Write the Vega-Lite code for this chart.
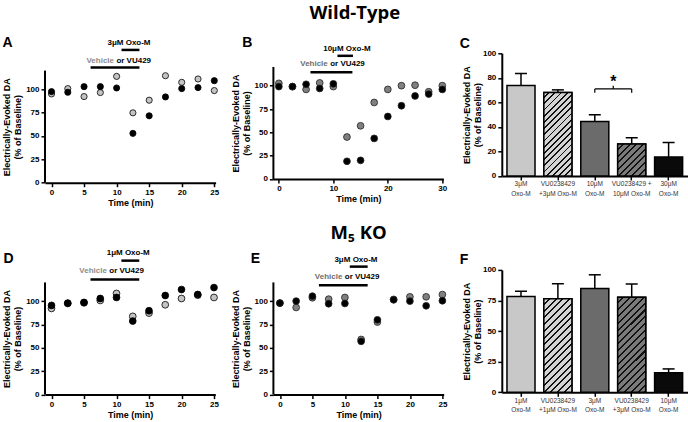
{
 "$schema": "https://vega.github.io/schema/vega-lite/v6.json",
 "background": "white",
 "padding": {"left": 2, "top": 3.3, "right": 0, "bottom": 0},
 "columns": 3,
 "spacing": {"row": 86.6, "column": 57.4},
 "bounds": "flush",
 "align": "each",
 "resolve": {"scale": {"fill": "independent"}},
 "datasets": {
  "A": [
   {"t":0,"v":95,"g":"Vehicle"},{"t":2.5,"v":100.7,"g":"Vehicle"},{"t":5,"v":92.2,"g":"Vehicle"},{"t":7.5,"v":96.5,"g":"Vehicle"},{"t":10,"v":113.8,"g":"Vehicle"},{"t":12.5,"v":74.8,"g":"Vehicle"},{"t":15,"v":88.3,"g":"Vehicle"},{"t":17.5,"v":114.5,"g":"Vehicle"},{"t":20,"v":107.4,"g":"Vehicle"},{"t":22.5,"v":111,"g":"Vehicle"},{"t":25,"v":98.6,"g":"Vehicle"},
   {"t":0,"v":97.5,"g":"VU429"},{"t":2.5,"v":96.8,"g":"VU429"},{"t":5,"v":102.8,"g":"VU429"},{"t":7.5,"v":102.8,"g":"VU429"},{"t":10,"v":101.4,"g":"VU429"},{"t":12.5,"v":52.8,"g":"VU429"},{"t":15,"v":71.6,"g":"VU429"},{"t":17.5,"v":91.8,"g":"VU429"},{"t":20,"v":100.7,"g":"VU429"},{"t":22.5,"v":101.8,"g":"VU429"},{"t":25,"v":109.2,"g":"VU429"}
  ],
  "B": [
   {"t":0,"v":102.5,"g":"Vehicle"},{"t":2.5,"v":99,"g":"Vehicle"},{"t":5,"v":96,"g":"Vehicle"},{"t":7.5,"v":103,"g":"Vehicle"},{"t":10,"v":99,"g":"Vehicle"},{"t":12.5,"v":45,"g":"Vehicle"},{"t":15,"v":57,"g":"Vehicle"},{"t":17.5,"v":82,"g":"Vehicle"},{"t":20,"v":96,"g":"Vehicle"},{"t":22.5,"v":100,"g":"Vehicle"},{"t":25,"v":100.5,"g":"Vehicle"},{"t":27.5,"v":93.5,"g":"Vehicle"},{"t":30,"v":100,"g":"Vehicle"},
   {"t":0,"v":99,"g":"VU429"},{"t":2.5,"v":99,"g":"VU429"},{"t":5,"v":101.5,"g":"VU429"},{"t":7.5,"v":97,"g":"VU429"},{"t":10,"v":102,"g":"VU429"},{"t":12.5,"v":19,"g":"VU429"},{"t":15,"v":20,"g":"VU429"},{"t":17.5,"v":43.5,"g":"VU429"},{"t":20,"v":67,"g":"VU429"},{"t":22.5,"v":78.5,"g":"VU429"},{"t":25,"v":89,"g":"VU429"},{"t":27.5,"v":91,"g":"VU429"},{"t":30,"v":96,"g":"VU429"}
  ],
  "D": [
   {"t":0,"v":92.2,"g":"Vehicle"},{"t":2.5,"v":97.5,"g":"Vehicle"},{"t":5,"v":98.2,"g":"Vehicle"},{"t":7.5,"v":100.7,"g":"Vehicle"},{"t":10,"v":108.2,"g":"Vehicle"},{"t":12.5,"v":83.7,"g":"Vehicle"},{"t":15,"v":87.2,"g":"Vehicle"},{"t":17.5,"v":96.1,"g":"Vehicle"},{"t":20,"v":102.8,"g":"Vehicle"},{"t":22.5,"v":106.4,"g":"Vehicle"},{"t":25,"v":103.9,"g":"Vehicle"},
   {"t":0,"v":95.4,"g":"VU429"},{"t":2.5,"v":97.9,"g":"VU429"},{"t":5,"v":98.6,"g":"VU429"},{"t":7.5,"v":102.8,"g":"VU429"},{"t":10,"v":103.9,"g":"VU429"},{"t":12.5,"v":78.7,"g":"VU429"},{"t":15,"v":89.7,"g":"VU429"},{"t":17.5,"v":106,"g":"VU429"},{"t":20,"v":112.4,"g":"VU429"},{"t":22.5,"v":107.1,"g":"VU429"},{"t":25,"v":114.5,"g":"VU429"}
  ],
  "E": [
   {"t":0,"v":97.9,"g":"Vehicle"},{"t":2.5,"v":93.2,"g":"Vehicle"},{"t":5,"v":103.6,"g":"Vehicle"},{"t":7.5,"v":102.1,"g":"Vehicle"},{"t":10,"v":103.9,"g":"Vehicle"},{"t":12.5,"v":59,"g":"Vehicle"},{"t":15,"v":77.6,"g":"Vehicle"},{"t":17.5,"v":101.8,"g":"Vehicle"},{"t":20,"v":104.6,"g":"Vehicle"},{"t":22.5,"v":104.6,"g":"Vehicle"},{"t":25,"v":107,"g":"Vehicle"},
   {"t":0,"v":97.9,"g":"VU429"},{"t":2.5,"v":100,"g":"VU429"},{"t":5,"v":105.3,"g":"VU429"},{"t":7.5,"v":97.2,"g":"VU429"},{"t":10,"v":97.5,"g":"VU429"},{"t":12.5,"v":57,"g":"VU429"},{"t":15,"v":80,"g":"VU429"},{"t":17.5,"v":101.4,"g":"VU429"},{"t":20,"v":100,"g":"VU429"},{"t":22.5,"v":95,"g":"VU429"},{"t":25,"v":100.4,"g":"VU429"}
  ],
  "annA": [{"kind":"oxo","start":10.75,"end":13.5,"at":11.9,"label":"3μM Oxo-M"},{"kind":"veh","start":6,"end":13.5,"at":9.78}],
  "annB": [{"kind":"oxo","start":10.75,"end":13.6,"at":12.5,"label":"10μM Oxo-M"},{"kind":"veh","start":5.8,"end":13.5,"at":9.2}],
  "annD": [{"kind":"oxo","start":10.75,"end":13.5,"at":11.8,"label":"1μM Oxo-M"},{"kind":"veh","start":6,"end":13.5,"at":8.7}],
  "annE": [{"kind":"oxo","start":10.75,"end":13.5,"at":11.7,"label":"3μM Oxo-M"},{"kind":"veh","start":6,"end":13.5,"at":9.8}],
  "C": [
   {"idx":"c1","cond":"3μM\nOxo-M","mean":73.7,"hi":83.6},
   {"idx":"c2","cond":"VU0238429\n+3μM Oxo-M","mean":68.1,"hi":70.2},
   {"idx":"c3","cond":"10μM\nOxo-M","mean":44.5,"hi":49.9,"pair":"VU0238429 +\n10μM Oxo-M"},
   {"idx":"c4","cond":"VU0238429 +\n10μM Oxo-M","mean":26,"hi":31.1},
   {"idx":"c5","cond":"30μM\nOxo-M","mean":15.5,"hi":27.3}
  ],
  "F": [
   {"idx":"c1","cond":"1μM\nOxo-M","mean":78.2,"hi":82.5},
   {"idx":"c2","cond":"VU0238429\n+1μM Oxo-M","mean":76.5,"hi":88.7},
   {"idx":"c3","cond":"3μM\nOxo-M","mean":84.9,"hi":96},
   {"idx":"c4","cond":"VU0238429\n+3μM Oxo-M","mean":77.6,"hi":88.4},
   {"idx":"c5","cond":"10μM\nOxo-M","mean":15.9,"hi":19.1}
  ]
 },
 "concat": [
  {
   "width": 170.6, "height": 129.4,
   "resolve": {"axis": {"x": "independent", "y": "independent"}},
   "layer": [
    {"data":{"name":"A"},"mark":{"type":"point","filled":true,"opacity":1,"size":38,"stroke":"black","strokeWidth":0.8},
     "encoding":{
      "x":{"field":"t","type":"quantitative","scale":{"domain":[-1,25.2],"nice":false,"zero":false},"axis":{"values":[0,5,10,15,20,25],"labelOverlap":false,"title":"Time (min)"}},
      "y":{"field":"v","type":"quantitative","scale":{"domain":[0,138.5],"nice":false},"axis":{"values":[0,25,50,75,100],"labelOverlap":false,"domain":false,"title":["Electrically-Evoked DA","(% of Baseline)"],"titleY":73.4}},
      "fill":{"field":"g","type":"nominal","scale":{"domain":["Vehicle","VU429"],"range":["#c4c4c4","#000000"]},"legend":null}}},
    {"data":{"values":[{}]},"mark":{"type":"rule","stroke":"black","strokeWidth":2},"encoding":{"x":{"datum":-1,"type":"quantitative","axis":null},"y":{"datum":0,"type":"quantitative","axis":null},"y2":{"datum":120}}},
    {"data":{"name":"annA"},"transform":[{"filter":"datum.kind==='oxo'"}],"mark":{"type":"rule","stroke":"black","strokeWidth":2.5},"encoding":{"x":{"field":"start","type":"quantitative","axis":null},"x2":{"field":"end"},"y":{"datum":142.1,"axis":null}}},
    {"data":{"name":"annA"},"transform":[{"filter":"datum.kind==='veh'"}],"mark":{"type":"rule","stroke":"black","strokeWidth":2.5},"encoding":{"x":{"field":"start","type":"quantitative","axis":null},"x2":{"field":"end"},"y":{"datum":123.3,"axis":null}}},
    {"data":{"name":"annA"},"transform":[{"filter":"datum.kind==='oxo'"}],"mark":{"type":"text","font":"Liberation Sans","fontSize":8,"fontWeight":"bold","baseline":"middle","align":"center","color":"black"},"encoding":{"x":{"field":"at","type":"quantitative","axis":null},"y":{"datum":149.6,"axis":null},"text":{"field":"label"}}},
    {"data":{"name":"annA"},"transform":[{"filter":"datum.kind==='veh'"}],"mark":{"type":"text","font":"Liberation Sans","fontSize":8,"fontWeight":"bold","baseline":"middle","align":"right","dx":-1.2,"color":"#8c8c8c"},"encoding":{"x":{"field":"at","type":"quantitative","axis":null},"y":{"datum":130.4,"axis":null},"text":{"value":"Vehicle"}}},
    {"data":{"name":"annA"},"transform":[{"filter":"datum.kind==='veh'"}],"mark":{"type":"text","font":"Liberation Sans","fontSize":8,"fontWeight":"bold","baseline":"middle","align":"left","dx":1.2,"color":"black"},"encoding":{"x":{"field":"at","type":"quantitative","axis":null},"y":{"datum":130.4,"axis":null},"text":{"value":"or VU429"}}},
    {"data":{"values":[{}]},"mark":{"type":"text","font":"Liberation Sans","fontSize":14,"fontWeight":"bold","baseline":"middle","align":"center","color":"black"},"encoding":{"x":{"datum":-6.76,"type":"quantitative","axis":null},"y":{"datum":149.6,"type":"quantitative","axis":null},"text":{"value":"A"}}}
   ]
  },
  {
   "width": 170.0, "height": 125.7,
   "resolve": {"axis": {"x": "independent", "y": "independent"}},
   "title": {"text":"Wild-Type","anchor":"middle","frame":"group","dx":-3.6,"offset":-1.7,"fontSize":18.5,"font":"Open Sans","fontWeight":"bold","baseline":"alphabetic","color":"black"},
   "layer": [
    {"data":{"name":"B"},"mark":{"type":"point","filled":true,"opacity":1,"size":46,"stroke":"#222222","strokeWidth":0.8},
     "encoding":{
      "x":{"field":"t","type":"quantitative","scale":{"domain":[-1,30.2],"nice":false,"zero":false},"axis":{"values":[0,10,20,30],"labelOverlap":false,"title":"Time (min)"}},
      "y":{"field":"v","type":"quantitative","scale":{"domain":[0,134.7],"nice":false},"axis":{"values":[0,25,50,75,100],"labelOverlap":false,"domain":false,"title":["Electrically-Evoked DA","(% of Baseline)"],"titleY":69.7}},
      "fill":{"field":"g","type":"nominal","scale":{"domain":["Vehicle","VU429"],"range":["#808080","#000000"]},"legend":null}}},
    {"data":{"values":[{}]},"mark":{"type":"rule","stroke":"black","strokeWidth":2},"encoding":{"x":{"datum":-1,"type":"quantitative","axis":null},"y":{"datum":0,"type":"quantitative","axis":null},"y2":{"datum":120}}},
    {"data":{"name":"annB"},"transform":[{"filter":"datum.kind==='oxo'"}],"mark":{"type":"rule","stroke":"black","strokeWidth":2.5},"encoding":{"x":{"field":"start","type":"quantitative","axis":null},"x2":{"field":"end"},"y":{"datum":132,"axis":null}}},
    {"data":{"name":"annB"},"transform":[{"filter":"datum.kind==='veh'"}],"mark":{"type":"rule","stroke":"black","strokeWidth":2.5},"encoding":{"x":{"field":"start","type":"quantitative","axis":null},"x2":{"field":"end"},"y":{"datum":114.5,"axis":null}}},
    {"data":{"name":"annB"},"transform":[{"filter":"datum.kind==='oxo'"}],"mark":{"type":"text","font":"Liberation Sans","fontSize":8,"fontWeight":"bold","baseline":"middle","align":"center","color":"black"},"encoding":{"x":{"field":"at","type":"quantitative","axis":null},"y":{"datum":139,"axis":null},"text":{"field":"label"}}},
    {"data":{"name":"annB"},"transform":[{"filter":"datum.kind==='veh'"}],"mark":{"type":"text","font":"Liberation Sans","fontSize":8,"fontWeight":"bold","baseline":"middle","align":"right","dx":-1.2,"color":"#6e6e6e"},"encoding":{"x":{"field":"at","type":"quantitative","axis":null},"y":{"datum":123.5,"axis":null},"text":{"value":"Vehicle"}}},
    {"data":{"name":"annB"},"transform":[{"filter":"datum.kind==='veh'"}],"mark":{"type":"text","font":"Liberation Sans","fontSize":8,"fontWeight":"bold","baseline":"middle","align":"left","dx":1.2,"color":"black"},"encoding":{"x":{"field":"at","type":"quantitative","axis":null},"y":{"datum":123.5,"axis":null},"text":{"value":"or VU429"}}},
    {"data":{"values":[{}]},"mark":{"type":"text","font":"Liberation Sans","fontSize":14,"fontWeight":"bold","baseline":"middle","align":"center","color":"black"},"encoding":{"x":{"datum":-5.77,"type":"quantitative","axis":null},"y":{"datum":145.8,"type":"quantitative","axis":null},"text":{"value":"B"}}}
   ]
  },
  {
   "width": 186, "height": 122.7,
   "title": {"text":"C","anchor":"start","frame":"group","dx":-42,"offset":-12.8,"fontSize":14,"font":"Liberation Sans","fontWeight":"bold","baseline":"alphabetic","color":"black"},
   "data": {"name":"C"},
   "encoding": {
    "x": {"field":"cond","type":"nominal","sort":null,"scale":{"domain":["3μM\nOxo-M","VU0238429\n+3μM Oxo-M","10μM\nOxo-M","VU0238429 +\n10μM Oxo-M","30μM\nOxo-M"],"paddingInner":0.24,"paddingOuter":0.14},"axis":{"title":null,"labelAngle":0,"labelExpr":"split(datum.value, '\\n')","labelFontWeight":"normal","labelFontSize":6.5,"labelColor":"#333333","labelLineHeight":9.5,"labelPadding":1,"tickSize":4}},
    "y": {"field":"mean","type":"quantitative","scale":{"domain":[0,100],"nice":false},"axis":{"values":[0,20,40,60,80,100],"labelOverlap":false,"title":["Electrically-Evoked DA","(% of Baseline)"],"titlePadding":0}}
   },
   "layer": [
    {"mark":{"type":"bar","stroke":"black","strokeWidth":1.5},"encoding":{"fill":{"field":"idx","type":"nominal","scale":{"domain":["c1","c2","c3","c4","c5"],"range":["#c8c8c8","#d4d4d4","#6b6b6b","#7a7a7a","#0a0a0a"]},"legend":null}}},
    {"transform":[{"filter":"datum.idx==='c2'"}],"mark":{"type":"bar","stroke":"black","strokeWidth":1.5,"fill":{"gradient":"linear","x1":0,"y1":0,"x2":0.402,"y2":1.2,"stops":[
     {"offset":0,"color":"#d4d4d4"},
     {"offset":0.0389,"color":"#d4d4d4"},{"offset":0.0389,"color":"#111111"},{"offset":0.0556,"color":"#111111"},{"offset":0.0556,"color":"#d4d4d4"},
     {"offset":0.0944,"color":"#d4d4d4"},{"offset":0.0944,"color":"#111111"},{"offset":0.1111,"color":"#111111"},{"offset":0.1111,"color":"#d4d4d4"},
     {"offset":0.15,"color":"#d4d4d4"},{"offset":0.15,"color":"#111111"},{"offset":0.1667,"color":"#111111"},{"offset":0.1667,"color":"#d4d4d4"},
     {"offset":0.2056,"color":"#d4d4d4"},{"offset":0.2056,"color":"#111111"},{"offset":0.2222,"color":"#111111"},{"offset":0.2222,"color":"#d4d4d4"},
     {"offset":0.2611,"color":"#d4d4d4"},{"offset":0.2611,"color":"#111111"},{"offset":0.2778,"color":"#111111"},{"offset":0.2778,"color":"#d4d4d4"},
     {"offset":0.3167,"color":"#d4d4d4"},{"offset":0.3167,"color":"#111111"},{"offset":0.3333,"color":"#111111"},{"offset":0.3333,"color":"#d4d4d4"},
     {"offset":0.3722,"color":"#d4d4d4"},{"offset":0.3722,"color":"#111111"},{"offset":0.3889,"color":"#111111"},{"offset":0.3889,"color":"#d4d4d4"},
     {"offset":0.4278,"color":"#d4d4d4"},{"offset":0.4278,"color":"#111111"},{"offset":0.4444,"color":"#111111"},{"offset":0.4444,"color":"#d4d4d4"},
     {"offset":0.4833,"color":"#d4d4d4"},{"offset":0.4833,"color":"#111111"},{"offset":0.5,"color":"#111111"},{"offset":0.5,"color":"#d4d4d4"},
     {"offset":0.5389,"color":"#d4d4d4"},{"offset":0.5389,"color":"#111111"},{"offset":0.5556,"color":"#111111"},{"offset":0.5556,"color":"#d4d4d4"},
     {"offset":0.5944,"color":"#d4d4d4"},{"offset":0.5944,"color":"#111111"},{"offset":0.6111,"color":"#111111"},{"offset":0.6111,"color":"#d4d4d4"},
     {"offset":0.65,"color":"#d4d4d4"},{"offset":0.65,"color":"#111111"},{"offset":0.6667,"color":"#111111"},{"offset":0.6667,"color":"#d4d4d4"},
     {"offset":0.7056,"color":"#d4d4d4"},{"offset":0.7056,"color":"#111111"},{"offset":0.7222,"color":"#111111"},{"offset":0.7222,"color":"#d4d4d4"},
     {"offset":0.7611,"color":"#d4d4d4"},{"offset":0.7611,"color":"#111111"},{"offset":0.7778,"color":"#111111"},{"offset":0.7778,"color":"#d4d4d4"},
     {"offset":0.8167,"color":"#d4d4d4"},{"offset":0.8167,"color":"#111111"},{"offset":0.8333,"color":"#111111"},{"offset":0.8333,"color":"#d4d4d4"},
     {"offset":0.8722,"color":"#d4d4d4"},{"offset":0.8722,"color":"#111111"},{"offset":0.8889,"color":"#111111"},{"offset":0.8889,"color":"#d4d4d4"},
     {"offset":0.9278,"color":"#d4d4d4"},{"offset":0.9278,"color":"#111111"},{"offset":0.9444,"color":"#111111"},{"offset":0.9444,"color":"#d4d4d4"},
     {"offset":0.9833,"color":"#d4d4d4"},{"offset":0.9833,"color":"#111111"},{"offset":1,"color":"#111111"}
    ]}}},
    {"transform":[{"filter":"datum.idx==='c4'"}],"mark":{"type":"bar","stroke":"black","strokeWidth":1.5,"fill":{"gradient":"linear","x1":0,"y1":0,"x2":0.931,"y2":1.06,"stops":[
     {"offset":0,"color":"#7a7a7a"},
     {"offset":0.0778,"color":"#7a7a7a"},{"offset":0.0778,"color":"#111111"},{"offset":0.1111,"color":"#111111"},{"offset":0.1111,"color":"#7a7a7a"},
     {"offset":0.1889,"color":"#7a7a7a"},{"offset":0.1889,"color":"#111111"},{"offset":0.2222,"color":"#111111"},{"offset":0.2222,"color":"#7a7a7a"},
     {"offset":0.3,"color":"#7a7a7a"},{"offset":0.3,"color":"#111111"},{"offset":0.3333,"color":"#111111"},{"offset":0.3333,"color":"#7a7a7a"},
     {"offset":0.4111,"color":"#7a7a7a"},{"offset":0.4111,"color":"#111111"},{"offset":0.4444,"color":"#111111"},{"offset":0.4444,"color":"#7a7a7a"},
     {"offset":0.5222,"color":"#7a7a7a"},{"offset":0.5222,"color":"#111111"},{"offset":0.5556,"color":"#111111"},{"offset":0.5556,"color":"#7a7a7a"},
     {"offset":0.6333,"color":"#7a7a7a"},{"offset":0.6333,"color":"#111111"},{"offset":0.6667,"color":"#111111"},{"offset":0.6667,"color":"#7a7a7a"},
     {"offset":0.7444,"color":"#7a7a7a"},{"offset":0.7444,"color":"#111111"},{"offset":0.7778,"color":"#111111"},{"offset":0.7778,"color":"#7a7a7a"},
     {"offset":0.8556,"color":"#7a7a7a"},{"offset":0.8556,"color":"#111111"},{"offset":0.8889,"color":"#111111"},{"offset":0.8889,"color":"#7a7a7a"},
     {"offset":0.9667,"color":"#7a7a7a"},{"offset":0.9667,"color":"#111111"},{"offset":1,"color":"#111111"}
    ]}}},
    {"mark":{"type":"rule","stroke":"black","strokeWidth":1.5},"encoding":{"y2":{"field":"hi"}}},
    {"mark":{"type":"tick","color":"black","opacity":1,"size":12,"thickness":1.5},"encoding":{"y":{"field":"hi","type":"quantitative"}}},
    {"transform":[{"filter":"datum.idx==='c3' || datum.idx==='c4'"}],"mark":{"type":"rule","stroke":"black","strokeWidth":1.2},"encoding":{"y":{"datum":67.8},"y2":{"datum":71}}},
    {"transform":[{"filter":"datum.idx==='c3'"}],"mark":{"type":"rule","stroke":"black","strokeWidth":1.2},"encoding":{"x2":{"field":"pair"},"y":{"datum":71}}},
    {"transform":[{"filter":"datum.idx==='c3'"}],"mark":{"type":"rule","stroke":"black","strokeWidth":1.2},"encoding":{"x":{"field":"cond","type":"nominal","bandPosition":1.158},"y":{"datum":71},"y2":{"datum":73.5}}},
    {"transform":[{"filter":"datum.idx==='c3'"}],"mark":{"type":"text","font":"Liberation Sans","fontSize":16,"fontWeight":"bold","baseline":"middle","align":"center","color":"black"},"encoding":{"x":{"field":"cond","type":"nominal","bandPosition":1.158},"y":{"datum":77},"text":{"value":"*"}}}
   ]
  },
  {
   "width": 170.3, "height": 124.7,
   "resolve": {"axis": {"x": "independent", "y": "independent"}},
   "layer": [
    {"data":{"name":"D"},"mark":{"type":"point","filled":true,"opacity":1,"size":46,"stroke":"black","strokeWidth":0.8},
     "encoding":{
      "x":{"field":"t","type":"quantitative","scale":{"domain":[-1,25.2],"nice":false,"zero":false},"axis":{"values":[0,5,10,15,20,25],"labelOverlap":false,"title":"Time (min)"}},
      "y":{"field":"v","type":"quantitative","scale":{"domain":[0,133.4],"nice":false},"axis":{"values":[0,25,50,75,100],"labelOverlap":false,"domain":false,"title":["Electrically-Evoked DA","(% of Baseline)"],"titleY":68.6}},
      "fill":{"field":"g","type":"nominal","scale":{"domain":["Vehicle","VU429"],"range":["#c4c4c4","#000000"]},"legend":null}}},
    {"data":{"values":[{}]},"mark":{"type":"rule","stroke":"black","strokeWidth":2},"encoding":{"x":{"datum":-1,"type":"quantitative","axis":null},"y":{"datum":0,"type":"quantitative","axis":null},"y2":{"datum":120}}},
    {"data":{"name":"annD"},"transform":[{"filter":"datum.kind==='oxo'"}],"mark":{"type":"rule","stroke":"black","strokeWidth":2.5},"encoding":{"x":{"field":"start","type":"quantitative","axis":null},"x2":{"field":"end"},"y":{"datum":143.3,"axis":null}}},
    {"data":{"name":"annD"},"transform":[{"filter":"datum.kind==='veh'"}],"mark":{"type":"rule","stroke":"black","strokeWidth":2.5},"encoding":{"x":{"field":"start","type":"quantitative","axis":null},"x2":{"field":"end"},"y":{"datum":123,"axis":null}}},
    {"data":{"name":"annD"},"transform":[{"filter":"datum.kind==='oxo'"}],"mark":{"type":"text","font":"Liberation Sans","fontSize":8,"fontWeight":"bold","baseline":"middle","align":"center","color":"black"},"encoding":{"x":{"field":"at","type":"quantitative","axis":null},"y":{"datum":151.1,"axis":null},"text":{"field":"label"}}},
    {"data":{"name":"annD"},"transform":[{"filter":"datum.kind==='veh'"}],"mark":{"type":"text","font":"Liberation Sans","fontSize":8,"fontWeight":"bold","baseline":"middle","align":"right","dx":-1.2,"color":"#8c8c8c"},"encoding":{"x":{"field":"at","type":"quantitative","axis":null},"y":{"datum":131.9,"axis":null},"text":{"value":"Vehicle"}}},
    {"data":{"name":"annD"},"transform":[{"filter":"datum.kind==='veh'"}],"mark":{"type":"text","font":"Liberation Sans","fontSize":8,"fontWeight":"bold","baseline":"middle","align":"left","dx":1.2,"color":"black"},"encoding":{"x":{"field":"at","type":"quantitative","axis":null},"y":{"datum":131.9,"axis":null},"text":{"value":"or VU429"}}},
    {"data":{"values":[{}]},"mark":{"type":"text","font":"Liberation Sans","fontSize":14,"fontWeight":"bold","baseline":"middle","align":"center","color":"black"},"encoding":{"x":{"datum":-6.62,"type":"quantitative","axis":null},"y":{"datum":145.5,"type":"quantitative","axis":null},"text":{"value":"D"}}}
   ]
  },
  {
   "width": 170.3, "height": 124.7,
   "resolve": {"axis": {"x": "independent", "y": "independent"}},
   "title": {"text":"M₅ KO","anchor":"middle","frame":"group","dx":0,"offset":-6,"fontSize":18.5,"font":"Open Sans","fontWeight":"bold","baseline":"alphabetic","color":"black"},
   "layer": [
    {"data":{"name":"E"},"mark":{"type":"point","filled":true,"opacity":1,"size":46,"stroke":"#222222","strokeWidth":0.8},
     "encoding":{
      "x":{"field":"t","type":"quantitative","scale":{"domain":[-1,25.2],"nice":false,"zero":false},"axis":{"values":[0,5,10,15,20,25],"labelOverlap":false,"title":"Time (min)"}},
      "y":{"field":"v","type":"quantitative","scale":{"domain":[0,133.4],"nice":false},"axis":{"values":[0,25,50,75,100],"labelOverlap":false,"domain":false,"title":["Electrically-Evoked DA","(% of Baseline)"],"titleY":68.6}},
      "fill":{"field":"g","type":"nominal","scale":{"domain":["Vehicle","VU429"],"range":["#808080","#000000"]},"legend":null}}},
    {"data":{"values":[{}]},"mark":{"type":"rule","stroke":"black","strokeWidth":2},"encoding":{"x":{"datum":-1,"type":"quantitative","axis":null},"y":{"datum":0,"type":"quantitative","axis":null},"y2":{"datum":120}}},
    {"data":{"name":"annE"},"transform":[{"filter":"datum.kind==='oxo'"}],"mark":{"type":"rule","stroke":"black","strokeWidth":2.5},"encoding":{"x":{"field":"start","type":"quantitative","axis":null},"x2":{"field":"end"},"y":{"datum":136.9,"axis":null}}},
    {"data":{"name":"annE"},"transform":[{"filter":"datum.kind==='veh'"}],"mark":{"type":"rule","stroke":"black","strokeWidth":2.5},"encoding":{"x":{"field":"start","type":"quantitative","axis":null},"x2":{"field":"end"},"y":{"datum":117.1,"axis":null}}},
    {"data":{"name":"annE"},"transform":[{"filter":"datum.kind==='oxo'"}],"mark":{"type":"text","font":"Liberation Sans","fontSize":8,"fontWeight":"bold","baseline":"middle","align":"center","color":"black"},"encoding":{"x":{"field":"at","type":"quantitative","axis":null},"y":{"datum":144.4,"axis":null},"text":{"field":"label"}}},
    {"data":{"name":"annE"},"transform":[{"filter":"datum.kind==='veh'"}],"mark":{"type":"text","font":"Liberation Sans","fontSize":8,"fontWeight":"bold","baseline":"middle","align":"right","dx":-1.2,"color":"#6e6e6e"},"encoding":{"x":{"field":"at","type":"quantitative","axis":null},"y":{"datum":126.2,"axis":null},"text":{"value":"Vehicle"}}},
    {"data":{"name":"annE"},"transform":[{"filter":"datum.kind==='veh'"}],"mark":{"type":"text","font":"Liberation Sans","fontSize":8,"fontWeight":"bold","baseline":"middle","align":"left","dx":1.2,"color":"black"},"encoding":{"x":{"field":"at","type":"quantitative","axis":null},"y":{"datum":126.2,"axis":null},"text":{"value":"or VU429"}}},
    {"data":{"values":[{}]},"mark":{"type":"text","font":"Liberation Sans","fontSize":14,"fontWeight":"bold","baseline":"middle","align":"center","color":"black"},"encoding":{"x":{"datum":-3.77,"type":"quantitative","axis":null},"y":{"datum":145.5,"type":"quantitative","axis":null},"text":{"value":"E"}}}
   ]
  },
  {
   "width": 186, "height": 122.4,
   "title": {"text":"F","anchor":"start","frame":"group","dx":-42,"offset":-12.4,"fontSize":14,"font":"Liberation Sans","fontWeight":"bold","baseline":"alphabetic","color":"black"},
   "data": {"name":"F"},
   "encoding": {
    "x": {"field":"cond","type":"nominal","sort":null,"scale":{"domain":["1μM\nOxo-M","VU0238429\n+1μM Oxo-M","3μM\nOxo-M","VU0238429\n+3μM Oxo-M","10μM\nOxo-M"],"paddingInner":0.24,"paddingOuter":0.14},"axis":{"title":null,"labelAngle":0,"labelExpr":"split(datum.value, '\\n')","labelFontWeight":"normal","labelFontSize":6.5,"labelColor":"#333333","labelLineHeight":9.5,"labelPadding":1,"tickSize":4}},
    "y": {"field":"mean","type":"quantitative","scale":{"domain":[0,100],"nice":false},"axis":{"values":[0,25,50,75,100],"labelOverlap":false,"title":["Electrically-Evoked DA","(% of Baseline)"],"titlePadding":0}}
   },
   "layer": [
    {"mark":{"type":"bar","stroke":"black","strokeWidth":1.5},"encoding":{"fill":{"field":"idx","type":"nominal","scale":{"domain":["c1","c2","c3","c4","c5"],"range":["#c8c8c8","#d4d4d4","#6b6b6b","#7a7a7a","#0a0a0a"]},"legend":null}}},
    {"transform":[{"filter":"datum.idx==='c2'"}],"mark":{"type":"bar","stroke":"black","strokeWidth":1.5,"fill":{"gradient":"linear","x1":0,"y1":0,"x2":0.355,"y2":1.192,"stops":[
     {"offset":0,"color":"#d4d4d4"},
     {"offset":0.0389,"color":"#d4d4d4"},{"offset":0.0389,"color":"#111111"},{"offset":0.0556,"color":"#111111"},{"offset":0.0556,"color":"#d4d4d4"},
     {"offset":0.0944,"color":"#d4d4d4"},{"offset":0.0944,"color":"#111111"},{"offset":0.1111,"color":"#111111"},{"offset":0.1111,"color":"#d4d4d4"},
     {"offset":0.15,"color":"#d4d4d4"},{"offset":0.15,"color":"#111111"},{"offset":0.1667,"color":"#111111"},{"offset":0.1667,"color":"#d4d4d4"},
     {"offset":0.2056,"color":"#d4d4d4"},{"offset":0.2056,"color":"#111111"},{"offset":0.2222,"color":"#111111"},{"offset":0.2222,"color":"#d4d4d4"},
     {"offset":0.2611,"color":"#d4d4d4"},{"offset":0.2611,"color":"#111111"},{"offset":0.2778,"color":"#111111"},{"offset":0.2778,"color":"#d4d4d4"},
     {"offset":0.3167,"color":"#d4d4d4"},{"offset":0.3167,"color":"#111111"},{"offset":0.3333,"color":"#111111"},{"offset":0.3333,"color":"#d4d4d4"},
     {"offset":0.3722,"color":"#d4d4d4"},{"offset":0.3722,"color":"#111111"},{"offset":0.3889,"color":"#111111"},{"offset":0.3889,"color":"#d4d4d4"},
     {"offset":0.4278,"color":"#d4d4d4"},{"offset":0.4278,"color":"#111111"},{"offset":0.4444,"color":"#111111"},{"offset":0.4444,"color":"#d4d4d4"},
     {"offset":0.4833,"color":"#d4d4d4"},{"offset":0.4833,"color":"#111111"},{"offset":0.5,"color":"#111111"},{"offset":0.5,"color":"#d4d4d4"},
     {"offset":0.5389,"color":"#d4d4d4"},{"offset":0.5389,"color":"#111111"},{"offset":0.5556,"color":"#111111"},{"offset":0.5556,"color":"#d4d4d4"},
     {"offset":0.5944,"color":"#d4d4d4"},{"offset":0.5944,"color":"#111111"},{"offset":0.6111,"color":"#111111"},{"offset":0.6111,"color":"#d4d4d4"},
     {"offset":0.65,"color":"#d4d4d4"},{"offset":0.65,"color":"#111111"},{"offset":0.6667,"color":"#111111"},{"offset":0.6667,"color":"#d4d4d4"},
     {"offset":0.7056,"color":"#d4d4d4"},{"offset":0.7056,"color":"#111111"},{"offset":0.7222,"color":"#111111"},{"offset":0.7222,"color":"#d4d4d4"},
     {"offset":0.7611,"color":"#d4d4d4"},{"offset":0.7611,"color":"#111111"},{"offset":0.7778,"color":"#111111"},{"offset":0.7778,"color":"#d4d4d4"},
     {"offset":0.8167,"color":"#d4d4d4"},{"offset":0.8167,"color":"#111111"},{"offset":0.8333,"color":"#111111"},{"offset":0.8333,"color":"#d4d4d4"},
     {"offset":0.8722,"color":"#d4d4d4"},{"offset":0.8722,"color":"#111111"},{"offset":0.8889,"color":"#111111"},{"offset":0.8889,"color":"#d4d4d4"},
     {"offset":0.9278,"color":"#d4d4d4"},{"offset":0.9278,"color":"#111111"},{"offset":0.9444,"color":"#111111"},{"offset":0.9444,"color":"#d4d4d4"},
     {"offset":0.9833,"color":"#d4d4d4"},{"offset":0.9833,"color":"#111111"},{"offset":1,"color":"#111111"}
    ]}}},
    {"transform":[{"filter":"datum.idx==='c4'"}],"mark":{"type":"bar","stroke":"black","strokeWidth":1.5,"fill":{"gradient":"linear","x1":0,"y1":0,"x2":0.351,"y2":1.191,"stops":[
     {"offset":0,"color":"#7a7a7a"},
     {"offset":0.0389,"color":"#7a7a7a"},{"offset":0.0389,"color":"#111111"},{"offset":0.0556,"color":"#111111"},{"offset":0.0556,"color":"#7a7a7a"},
     {"offset":0.0944,"color":"#7a7a7a"},{"offset":0.0944,"color":"#111111"},{"offset":0.1111,"color":"#111111"},{"offset":0.1111,"color":"#7a7a7a"},
     {"offset":0.15,"color":"#7a7a7a"},{"offset":0.15,"color":"#111111"},{"offset":0.1667,"color":"#111111"},{"offset":0.1667,"color":"#7a7a7a"},
     {"offset":0.2056,"color":"#7a7a7a"},{"offset":0.2056,"color":"#111111"},{"offset":0.2222,"color":"#111111"},{"offset":0.2222,"color":"#7a7a7a"},
     {"offset":0.2611,"color":"#7a7a7a"},{"offset":0.2611,"color":"#111111"},{"offset":0.2778,"color":"#111111"},{"offset":0.2778,"color":"#7a7a7a"},
     {"offset":0.3167,"color":"#7a7a7a"},{"offset":0.3167,"color":"#111111"},{"offset":0.3333,"color":"#111111"},{"offset":0.3333,"color":"#7a7a7a"},
     {"offset":0.3722,"color":"#7a7a7a"},{"offset":0.3722,"color":"#111111"},{"offset":0.3889,"color":"#111111"},{"offset":0.3889,"color":"#7a7a7a"},
     {"offset":0.4278,"color":"#7a7a7a"},{"offset":0.4278,"color":"#111111"},{"offset":0.4444,"color":"#111111"},{"offset":0.4444,"color":"#7a7a7a"},
     {"offset":0.4833,"color":"#7a7a7a"},{"offset":0.4833,"color":"#111111"},{"offset":0.5,"color":"#111111"},{"offset":0.5,"color":"#7a7a7a"},
     {"offset":0.5389,"color":"#7a7a7a"},{"offset":0.5389,"color":"#111111"},{"offset":0.5556,"color":"#111111"},{"offset":0.5556,"color":"#7a7a7a"},
     {"offset":0.5944,"color":"#7a7a7a"},{"offset":0.5944,"color":"#111111"},{"offset":0.6111,"color":"#111111"},{"offset":0.6111,"color":"#7a7a7a"},
     {"offset":0.65,"color":"#7a7a7a"},{"offset":0.65,"color":"#111111"},{"offset":0.6667,"color":"#111111"},{"offset":0.6667,"color":"#7a7a7a"},
     {"offset":0.7056,"color":"#7a7a7a"},{"offset":0.7056,"color":"#111111"},{"offset":0.7222,"color":"#111111"},{"offset":0.7222,"color":"#7a7a7a"},
     {"offset":0.7611,"color":"#7a7a7a"},{"offset":0.7611,"color":"#111111"},{"offset":0.7778,"color":"#111111"},{"offset":0.7778,"color":"#7a7a7a"},
     {"offset":0.8167,"color":"#7a7a7a"},{"offset":0.8167,"color":"#111111"},{"offset":0.8333,"color":"#111111"},{"offset":0.8333,"color":"#7a7a7a"},
     {"offset":0.8722,"color":"#7a7a7a"},{"offset":0.8722,"color":"#111111"},{"offset":0.8889,"color":"#111111"},{"offset":0.8889,"color":"#7a7a7a"},
     {"offset":0.9278,"color":"#7a7a7a"},{"offset":0.9278,"color":"#111111"},{"offset":0.9444,"color":"#111111"},{"offset":0.9444,"color":"#7a7a7a"},
     {"offset":0.9833,"color":"#7a7a7a"},{"offset":0.9833,"color":"#111111"},{"offset":1,"color":"#111111"}
    ]}}},
    {"mark":{"type":"rule","stroke":"black","strokeWidth":1.5},"encoding":{"y2":{"field":"hi"}}},
    {"mark":{"type":"tick","color":"black","opacity":1,"size":12,"thickness":1.5},"encoding":{"y":{"field":"hi","type":"quantitative"}}}
   ]
  }
 ],
 "config": {
  "font": "Liberation Sans",
  "view": {"stroke": null},
  "axis": {"grid": false, "domainColor": "black", "domainWidth": 2, "tickColor": "black", "tickWidth": 1.5, "tickSize": 4,
           "labelFont": "Liberation Sans", "labelFontSize": 8, "labelFontWeight": "bold", "labelColor": "black", "labelPadding": 2,
           "labelFlush": false, "labelOverlap": false,
           "titleFont": "Liberation Sans", "titleFontSize": 9, "titleFontWeight": "bold", "titleColor": "black", "titlePadding": 2, "titleLineHeight": 11},
  "axisY": {"titlePadding": 3}
 }
}
